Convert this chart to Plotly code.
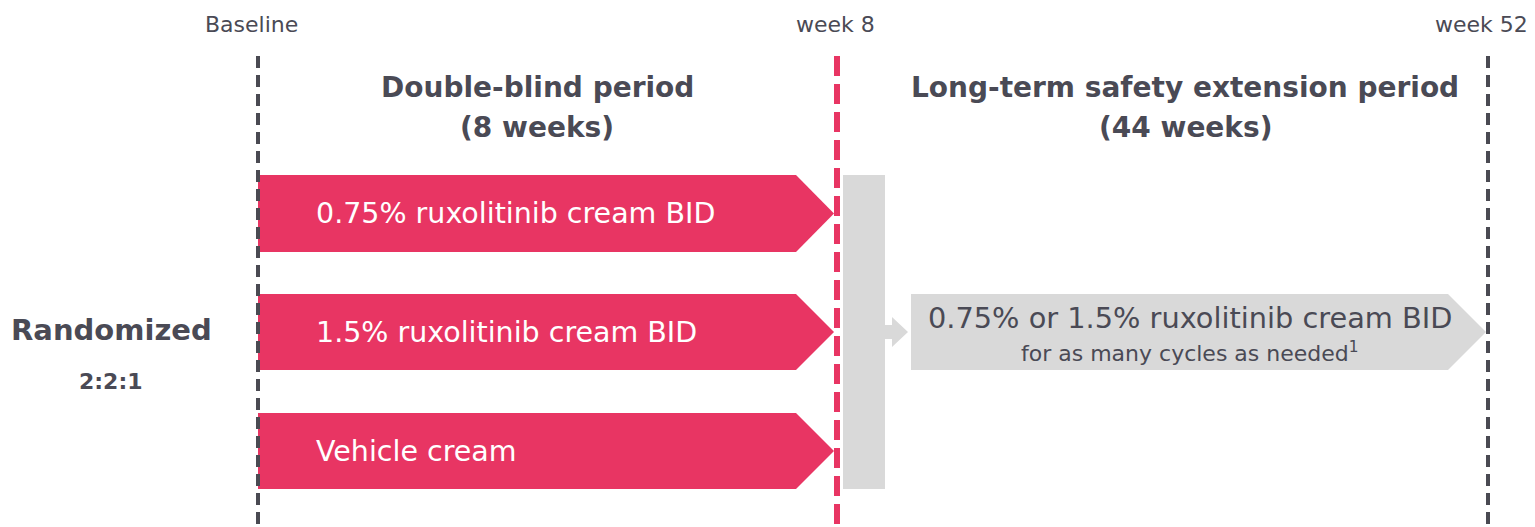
import plotly.graph_objects as go

# ---- data ----
milestones = ["Baseline", "week 8", "week 52"]
milestone_x = [258, 837, 1488]
milestone_label_x = [251, 835, 1481]
milestone_colors = ["#4a4a52", "#e83563", "#4a4a52"]

period_line1 = ["Double-blind period", "Long-term safety extension period"]
period_line2 = ["(8 weeks)", "(44 weeks)"]
period_center_x = [537, 1185]

arms = ["0.75% ruxolitinib cream BID", "1.5% ruxolitinib cream BID", "Vehicle cream"]
arm_top = [175, 294, 413]
arm_bottom = [252, 370, 489]

ext_line1 = "0.75% or 1.5% ruxolitinib cream BID"
ext_line2 = "for as many cycles as needed<sup>1</sup>"

rand_label = "Randomized"
ratio_label = "2:2:1"

PINK = "#e83563"
GREY = "#d9d9d9"
DARK = "#4a4a55"
FONT = "DejaVu Sans"

W, H = 1535, 527
OFF = 8  # page body margin
fig = go.Figure()
shapes = []
ann = []

# milestone lines + labels
for name, x, lx, c in zip(milestones, milestone_x, milestone_label_x, milestone_colors):
    pink = c == PINK
    shapes.append(dict(type="line", x0=x, x1=x, y0=56, y1=H, xref="x", yref="y",
                       line=dict(color=c, width=6 if pink else 4,
                                 dash="20px,8px" if pink else "12px,7px")))
    ann.append(dict(x=lx, y=24, text=name, showarrow=False,
                    xref="x", yref="y", font=dict(family=FONT, size=22, color=DARK)))

# period titles
for l1, l2, cx in zip(period_line1, period_line2, period_center_x):
    ann.append(dict(x=cx, y=87, text="<b>" + l1 + "</b>", showarrow=False, xref="x", yref="y",
                    font=dict(family=FONT, size=28, color=DARK)))
    ann.append(dict(x=cx, y=127, text="<b>" + l2 + "</b>", showarrow=False, xref="x", yref="y",
                    font=dict(family=FONT, size=28, color=DARK)))

# pink arrows
x0 = milestone_x[0]
shoulder = 796
tip = 834
for name, t, b in zip(arms, arm_top, arm_bottom):
    m = (t + b) / 2
    path = f"M{x0},{t} L{shoulder},{t} L{tip},{m} L{shoulder},{b} L{x0},{b} Z"
    shapes.append(dict(type="path", path=path, xref="x", yref="y", fillcolor=PINK,
                       line=dict(width=0), layer="below"))
    ann.append(dict(x=314, y=m, text=name, showarrow=False, xanchor="left", xref="x", yref="y",
                    font=dict(family=FONT, size=28.5, color="white")))

# grey collector bar
shapes.append(dict(type="rect", x0=843, x1=885, y0=arm_top[0], y1=arm_bottom[-1], xref="x", yref="y",
                   fillcolor=GREY, line=dict(width=0), layer="below"))
# small connector arrow
cm = (arm_top[1] + arm_bottom[1]) / 2
shapes.append(dict(type="path",
                   path=f"M885,{cm-7} L892,{cm-7} L892,{cm-15} L908,{cm} L892,{cm+15} L892,{cm+7} L885,{cm+7} Z",
                   xref="x", yref="y", fillcolor=GREY, line=dict(width=0), layer="below"))
# grey extension arrow
et, eb = arm_top[1], arm_bottom[1]
shapes.append(dict(type="path",
                   path=f"M911,{et} L1448,{et} L1486,{cm} L1448,{eb} L911,{eb} Z",
                   xref="x", yref="y", fillcolor=GREY, line=dict(width=0), layer="below"))
ann.append(dict(x=1190, y=318, text=ext_line1, showarrow=False, xref="x", yref="y",
                font=dict(family=FONT, size=28.8, color=DARK)))
ann.append(dict(x=1190, y=352, text=ext_line2, showarrow=False, xref="x", yref="y",
                font=dict(family=FONT, size=22, color=DARK)))

# randomized label
ann.append(dict(x=111, y=330, text="<b>" + rand_label + "</b>", showarrow=False, xref="x", yref="y",
                font=dict(family=FONT, size=29, color=DARK)))
ann.append(dict(x=111, y=381, text="<b>" + ratio_label + "</b>", showarrow=False, xref="x", yref="y",
                font=dict(family=FONT, size=22, color=DARK)))

fig.update_layout(
    width=W - OFF, height=H - OFF, margin=dict(l=0, r=0, t=0, b=0),
    paper_bgcolor="white", plot_bgcolor="white",
    xaxis=dict(range=[OFF, W], visible=False, fixedrange=True),
    yaxis=dict(range=[H, OFF], visible=False, fixedrange=True),
    shapes=shapes, annotations=ann, showlegend=False,
)
fig.write_html("out.html")
